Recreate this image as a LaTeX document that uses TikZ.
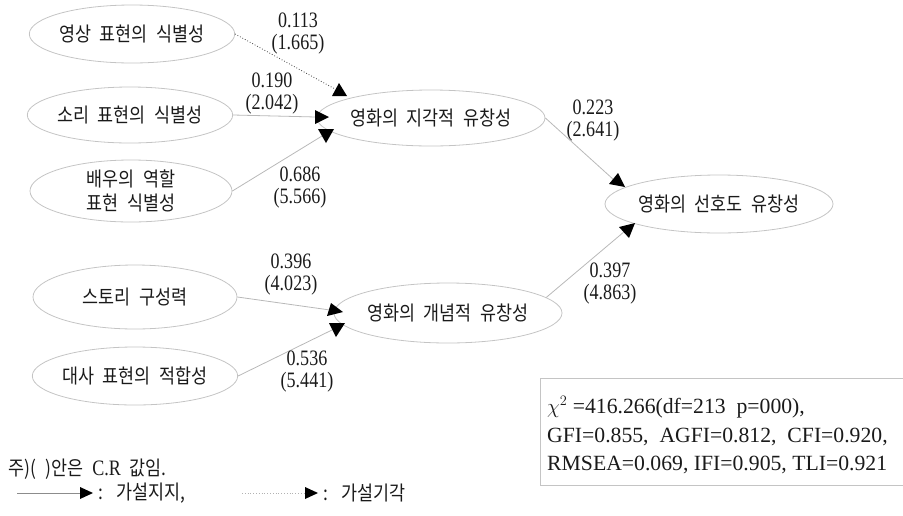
\documentclass[tikz,border=0pt]{standalone}
\usepackage{fontspec}
\setmainfont{Liberation Serif}
\newfontfamily\kr[FakeStretch=0.87,WordSpace=2.2]{Noto Sans CJK KR}
\newfontfamily\numf[FakeStretch=0.82]{Liberation Serif}
\usetikzlibrary{shapes.geometric}
\definecolor{elcol}{HTML}{C4C4C4}
\definecolor{lncol}{HTML}{B8B8B8}
\definecolor{txt}{HTML}{1A1A1A}
\begin{document}
\begin{tikzpicture}[x=1pt,y=-1pt,
  ell/.style={ellipse,draw=elcol,line width=0.8pt,inner sep=0pt,text=txt,
              font=\kr\fontsize{20}{24}\selectfont,align=center},
  conn/.style={draw=lncol,line width=0.8pt},
  rej/.style={draw=black!75,line width=0.8pt,dotted},
  lab/.style={font=\numf\fontsize{22}{22}\selectfont,align=center,inner sep=0pt,text=txt},
  fitt/.style={font=\fontsize{21.7}{26}\selectfont,anchor=base west,inner sep=0pt,text=txt},
  legt/.style={anchor=west,inner sep=0pt,text=txt,font=\kr\fontsize{20}{22}\selectfont},
  tri/.style={fill=black}]
\useasboundingbox (0,0) rectangle (903,515);

% ellipses
\node[ell,minimum width=205pt,minimum height=58pt] (e1) at (132,34) {영상 표현의 식별성};
\node[ell,minimum width=204pt,minimum height=56pt] (e2) at (130,115) {소리 표현의 식별성};
\node[ell,minimum width=202pt,minimum height=62pt] (e3) at (131,191) {배우의 역할\\표현 식별성};
\node[ell,minimum width=203pt,minimum height=56pt] (e4) at (431,118) {영화의 지각적 유창성};
\node[ell,minimum width=208pt,minimum height=58pt] (e5) at (719,204) {영화의 선호도 유창성};
\node[ell,minimum width=204pt,minimum height=64pt] (e6) at (135,297) {스토리 구성력};
\node[ell,minimum width=204pt,minimum height=58pt] (e7) at (135,376) {대사 표현의 적합성};
\node[ell,minimum width=210pt,minimum height=60pt] (e8) at (448,313) {영화의 개념적 유창성};

% connector ends (at arrowheads)
\coordinate (c1) at (335,89);
\coordinate (c2) at (316,117);
\coordinate (c3) at (322,136);
\coordinate (c4) at (614,180);
\coordinate (c5) at (625,231);
\coordinate (c6) at (330,310);
\coordinate (c7) at (334,329);

\draw[rej] (e1.east) -- (c1);
\draw[conn] (e2.east) -- (c2);
\draw[conn] (e3.east) -- (c3);
\draw[conn] (e4.east) -- (c4);
\draw[conn] (e8.9) -- (c5);
\draw[conn] (e6.east) -- (c6);
\draw[conn] (e7.east) -- (c7);

% arrowheads
\fill[tri] (339,83) -- (332,96) -- (347,96) -- cycle;
\fill[tri] (329,117) -- (315,110) -- (315,124) -- cycle;
\fill[tri] (326,143) -- (318,129) -- (334,129) -- cycle;
\fill[tri] (618,173) -- (609,184) -- (625,187) -- cycle;
\fill[tri] (635,223) -- (619,227) -- (629,238) -- cycle;
\fill[tri] (331,303) -- (327,316) -- (343,312) -- cycle;
\fill[tri] (329,323) -- (345,323) -- (336,337) -- cycle;

% path labels
\node[lab] (l1) at (298,34) {0.113\\(1.665)};
\node[lab] (l2) at (272,94) {0.190\\(2.042)};
\node[lab] (l3) at (300,188) {0.686\\(5.566)};
\node[lab] (l4) at (593,121) {0.223\\(2.641)};
\node[lab] (l5) at (610,284) {0.397\\(4.863)};
\node[lab] (l6) at (291,275) {0.396\\(4.023)};
\node[lab] (l7) at (307,372) {0.536\\(5.441)};

% fit box
\draw[draw=elcol,line width=0.9pt] (540,378) rectangle (906,485);
\node[fitt] (f1) at (547,413) {$\chi^{2}$ =416.266(df=213\ \ p=000),};
\node[fitt] (f2) at (547,442) {GFI=0.855,\ \ AGFI=0.812,\ \ CFI=0.920,};
\node[fitt] (f3) at (547,470) {RMSEA=0.069,\ IFI=0.905,\ TLI=0.921};

% note
\node[legt] (note) at (8,469)
  {주)(\,\,\,)안은 {\numf\fontsize{22}{22}\selectfont C.R} 값임.};

% legend
\coordinate (la) at (17,493);
\coordinate (lb) at (81,493);
\coordinate (lc) at (242,493);
\coordinate (ld) at (306,493);
\draw[draw=black!45,line width=0.8pt] (la) -- (lb);
\fill[tri] (80,487) -- (80,499) -- (93,493) -- cycle;
\node[legt] (lg1) at (98,493) {:\, 가설지지,};
\draw[draw=black!30,line width=0.8pt,dotted] (lc) -- (ld);
\fill[tri] (305,487) -- (305,499) -- (318,493) -- cycle;
\node[legt] (lg2) at (323,493) {:\, 가설기각};
\end{tikzpicture}
\end{document}
